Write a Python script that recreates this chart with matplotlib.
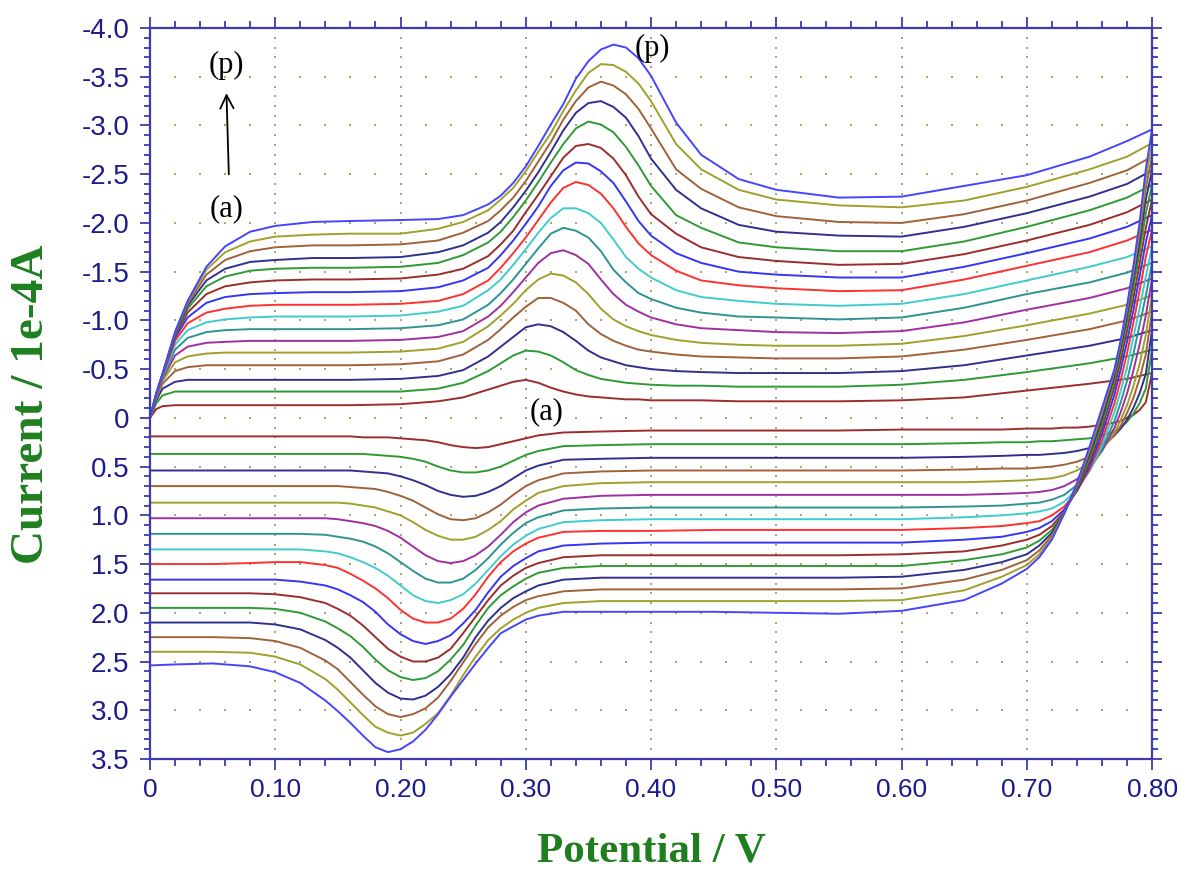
import matplotlib
matplotlib.use("Agg")
import matplotlib.pyplot as plt
import numpy as np

# ---------------- data (potential in V, current in 1e-4 A) ----------------
forward_V = [0.0, 0.005, 0.01, 0.02, 0.03, 0.045, 0.06, 0.08, 0.10, 0.13, 0.16, 0.20,
             0.23, 0.25, 0.27, 0.28, 0.29, 0.30, 0.31, 0.32, 0.33, 0.34, 0.35, 0.36,
             0.37, 0.38, 0.39, 0.40, 0.42, 0.44, 0.47, 0.50, 0.55, 0.60, 0.65, 0.70,
             0.75, 0.78, 0.80]
reverse_V = [0.80, 0.795, 0.79, 0.785, 0.78, 0.775, 0.77, 0.76, 0.75, 0.74, 0.73, 0.72,
             0.71, 0.70, 0.68, 0.65, 0.60, 0.55, 0.50, 0.45, 0.40, 0.36, 0.33, 0.31,
             0.30, 0.29, 0.28, 0.27, 0.26, 0.25, 0.24, 0.23, 0.22, 0.21, 0.20, 0.19,
             0.18, 0.17, 0.16, 0.15, 0.14, 0.12, 0.10, 0.08, 0.05, 0.02, 0.0]

fwd_a = [0.0, -0.09, -0.12, -0.13, -0.13, -0.13, -0.13, -0.13, -0.13, -0.13, -0.13, -0.14, -0.17, -0.21, -0.29, -0.33, -0.37, -0.39, -0.36, -0.31, -0.27, -0.24, -0.22, -0.21, -0.20, -0.19, -0.19, -0.18, -0.18, -0.18, -0.17, -0.17, -0.17, -0.18, -0.21, -0.28, -0.35, -0.40, -0.46]
fwd_b = [0.0, -0.15, -0.23, -0.27, -0.27, -0.27, -0.27, -0.27, -0.27, -0.27, -0.27, -0.27, -0.30, -0.36, -0.48, -0.56, -0.64, -0.69, -0.68, -0.64, -0.57, -0.49, -0.44, -0.40, -0.38, -0.36, -0.35, -0.34, -0.33, -0.33, -0.32, -0.32, -0.32, -0.34, -0.39, -0.47, -0.56, -0.63, -0.70]
fwd_c = [0.0, -0.18, -0.30, -0.37, -0.39, -0.39, -0.39, -0.39, -0.39, -0.39, -0.39, -0.40, -0.43, -0.49, -0.63, -0.73, -0.83, -0.93, -0.96, -0.94, -0.88, -0.79, -0.69, -0.62, -0.58, -0.54, -0.52, -0.50, -0.48, -0.47, -0.46, -0.46, -0.46, -0.48, -0.54, -0.64, -0.74, -0.82, -0.90]
fwd_d = [0.0, -0.20, -0.35, -0.48, -0.52, -0.54, -0.54, -0.54, -0.54, -0.54, -0.54, -0.55, -0.58, -0.65, -0.80, -0.91, -1.03, -1.14, -1.23, -1.23, -1.18, -1.10, -0.96, -0.86, -0.79, -0.74, -0.70, -0.68, -0.65, -0.63, -0.62, -0.61, -0.61, -0.63, -0.70, -0.80, -0.91, -1.00, -1.09]
fwd_e = [0.0, -0.21, -0.38, -0.57, -0.63, -0.66, -0.67, -0.67, -0.67, -0.67, -0.67, -0.68, -0.71, -0.78, -0.94, -1.05, -1.17, -1.31, -1.42, -1.48, -1.46, -1.39, -1.27, -1.12, -1.01, -0.94, -0.89, -0.85, -0.80, -0.77, -0.75, -0.74, -0.74, -0.76, -0.84, -0.95, -1.07, -1.16, -1.26]
fwd_f = [0.0, -0.22, -0.40, -0.64, -0.73, -0.77, -0.78, -0.79, -0.79, -0.79, -0.79, -0.80, -0.83, -0.89, -1.04, -1.15, -1.29, -1.44, -1.59, -1.69, -1.72, -1.67, -1.58, -1.42, -1.27, -1.16, -1.09, -1.03, -0.96, -0.92, -0.90, -0.88, -0.87, -0.89, -0.98, -1.11, -1.23, -1.33, -1.43]
fwd_g = [0.0, -0.23, -0.41, -0.70, -0.82, -0.88, -0.90, -0.91, -0.91, -0.91, -0.91, -0.92, -0.95, -1.01, -1.16, -1.28, -1.42, -1.58, -1.74, -1.89, -1.95, -1.92, -1.85, -1.71, -1.52, -1.39, -1.28, -1.22, -1.13, -1.08, -1.04, -1.03, -1.01, -1.03, -1.13, -1.27, -1.39, -1.49, -1.59]
fwd_h = [0.0, -0.24, -0.42, -0.75, -0.90, -0.98, -1.01, -1.03, -1.04, -1.04, -1.04, -1.05, -1.09, -1.15, -1.31, -1.42, -1.57, -1.73, -1.90, -2.05, -2.15, -2.15, -2.10, -2.00, -1.83, -1.65, -1.53, -1.44, -1.31, -1.24, -1.20, -1.17, -1.15, -1.17, -1.27, -1.41, -1.55, -1.65, -1.76]
fwd_i = [0.0, -0.24, -0.43, -0.79, -0.97, -1.08, -1.12, -1.15, -1.16, -1.16, -1.16, -1.17, -1.20, -1.27, -1.41, -1.54, -1.69, -1.85, -2.03, -2.21, -2.36, -2.42, -2.39, -2.30, -2.15, -1.96, -1.79, -1.67, -1.51, -1.41, -1.36, -1.33, -1.30, -1.31, -1.42, -1.56, -1.70, -1.82, -1.93]
fwd_j = [0.0, -0.24, -0.44, -0.82, -1.03, -1.18, -1.24, -1.27, -1.28, -1.29, -1.29, -1.30, -1.34, -1.41, -1.54, -1.67, -1.82, -1.99, -2.17, -2.38, -2.54, -2.62, -2.61, -2.53, -2.41, -2.22, -2.02, -1.87, -1.69, -1.59, -1.50, -1.47, -1.44, -1.44, -1.55, -1.69, -1.84, -1.96, -2.08]
fwd_k = [0.0, -0.25, -0.44, -0.84, -1.08, -1.27, -1.35, -1.39, -1.41, -1.42, -1.42, -1.43, -1.47, -1.53, -1.66, -1.78, -1.92, -2.11, -2.29, -2.48, -2.67, -2.79, -2.81, -2.77, -2.66, -2.49, -2.27, -2.09, -1.89, -1.75, -1.65, -1.61, -1.57, -1.58, -1.68, -1.82, -1.98, -2.11, -2.24]
fwd_l = [0.0, -0.25, -0.45, -0.85, -1.12, -1.35, -1.45, -1.51, -1.53, -1.54, -1.54, -1.55, -1.59, -1.67, -1.80, -1.91, -2.06, -2.23, -2.42, -2.62, -2.81, -2.97, -3.04, -3.01, -2.93, -2.78, -2.59, -2.38, -2.08, -1.95, -1.80, -1.75, -1.71, -1.71, -1.81, -1.96, -2.13, -2.26, -2.39]
fwd_m = [0.0, -0.25, -0.45, -0.86, -1.15, -1.41, -1.53, -1.60, -1.62, -1.64, -1.64, -1.65, -1.70, -1.77, -1.90, -2.01, -2.16, -2.33, -2.52, -2.73, -2.95, -3.13, -3.23, -3.25, -3.19, -3.08, -2.89, -2.66, -2.34, -2.15, -1.98, -1.91, -1.87, -1.86, -1.96, -2.10, -2.27, -2.40, -2.54]
fwd_n = [0.0, -0.25, -0.45, -0.87, -1.17, -1.47, -1.62, -1.71, -1.75, -1.77, -1.77, -1.78, -1.82, -1.90, -2.02, -2.13, -2.26, -2.43, -2.63, -2.83, -3.06, -3.25, -3.39, -3.45, -3.41, -3.32, -3.17, -2.97, -2.55, -2.35, -2.16, -2.07, -2.01, -2.00, -2.09, -2.23, -2.41, -2.54, -2.68]
fwd_o = [0.0, -0.25, -0.45, -0.88, -1.19, -1.52, -1.70, -1.81, -1.86, -1.88, -1.89, -1.89, -1.94, -2.01, -2.13, -2.24, -2.36, -2.53, -2.73, -2.92, -3.15, -3.36, -3.54, -3.63, -3.62, -3.55, -3.43, -3.25, -2.81, -2.55, -2.34, -2.24, -2.18, -2.16, -2.23, -2.37, -2.55, -2.68, -2.82]
fwd_p = [0.0, -0.25, -0.45, -0.88, -1.20, -1.55, -1.76, -1.91, -1.97, -2.01, -2.02, -2.03, -2.04, -2.08, -2.19, -2.28, -2.41, -2.58, -2.79, -3.01, -3.22, -3.48, -3.66, -3.78, -3.83, -3.80, -3.69, -3.51, -3.03, -2.70, -2.45, -2.34, -2.26, -2.27, -2.38, -2.49, -2.68, -2.84, -2.96]

rev_a = [-0.46, -0.16, -0.08, -0.03, 0.00, 0.03, 0.05, 0.07, 0.09, 0.10, 0.10, 0.11, 0.11, 0.11, 0.12, 0.12, 0.12, 0.13, 0.13, 0.13, 0.13, 0.14, 0.15, 0.18, 0.21, 0.24, 0.27, 0.30, 0.31, 0.30, 0.28, 0.25, 0.23, 0.22, 0.21, 0.20, 0.20, 0.20, 0.19, 0.19, 0.19, 0.19, 0.19, 0.19, 0.19, 0.19, 0.19]
rev_b = [-0.70, -0.30, -0.15, -0.04, 0.04, 0.10, 0.14, 0.18, 0.21, 0.22, 0.23, 0.24, 0.24, 0.25, 0.25, 0.26, 0.27, 0.27, 0.27, 0.27, 0.27, 0.28, 0.29, 0.34, 0.38, 0.44, 0.50, 0.54, 0.56, 0.56, 0.54, 0.50, 0.45, 0.42, 0.40, 0.39, 0.38, 0.37, 0.37, 0.37, 0.37, 0.37, 0.37, 0.37, 0.37, 0.37, 0.37]
rev_c = [-0.90, -0.45, -0.25, -0.10, 0.02, 0.11, 0.18, 0.26, 0.31, 0.34, 0.36, 0.37, 0.38, 0.38, 0.39, 0.40, 0.41, 0.41, 0.41, 0.41, 0.41, 0.42, 0.43, 0.49, 0.54, 0.62, 0.70, 0.76, 0.80, 0.81, 0.79, 0.75, 0.69, 0.64, 0.60, 0.57, 0.56, 0.55, 0.54, 0.54, 0.54, 0.54, 0.54, 0.54, 0.54, 0.54, 0.54]
rev_d = [-1.09, -0.65, -0.40, -0.20, -0.05, 0.08, 0.18, 0.31, 0.40, 0.45, 0.48, 0.50, 0.51, 0.52, 0.52, 0.53, 0.54, 0.54, 0.54, 0.54, 0.54, 0.55, 0.57, 0.64, 0.70, 0.79, 0.89, 0.97, 1.03, 1.05, 1.04, 0.99, 0.92, 0.85, 0.80, 0.76, 0.73, 0.72, 0.71, 0.70, 0.70, 0.70, 0.70, 0.70, 0.70, 0.70, 0.70]
rev_e = [-1.26, -0.85, -0.55, -0.32, -0.13, 0.02, 0.15, 0.33, 0.46, 0.54, 0.59, 0.62, 0.63, 0.64, 0.65, 0.66, 0.66, 0.66, 0.66, 0.66, 0.66, 0.67, 0.70, 0.77, 0.85, 0.94, 1.06, 1.15, 1.22, 1.25, 1.25, 1.21, 1.15, 1.07, 1.00, 0.96, 0.92, 0.90, 0.88, 0.87, 0.87, 0.87, 0.87, 0.87, 0.87, 0.87, 0.87]
rev_f = [-1.43, -1.05, -0.75, -0.48, -0.25, -0.06, 0.10, 0.34, 0.51, 0.63, 0.70, 0.74, 0.76, 0.77, 0.78, 0.79, 0.79, 0.79, 0.79, 0.79, 0.79, 0.80, 0.83, 0.90, 0.97, 1.07, 1.20, 1.32, 1.41, 1.47, 1.49, 1.47, 1.41, 1.32, 1.23, 1.16, 1.11, 1.08, 1.06, 1.04, 1.03, 1.03, 1.03, 1.03, 1.03, 1.03, 1.03]
rev_g = [-1.59, -1.25, -0.95, -0.65, -0.38, -0.16, 0.03, 0.32, 0.54, 0.69, 0.79, 0.84, 0.87, 0.88, 0.90, 0.91, 0.92, 0.92, 0.92, 0.92, 0.92, 0.93, 0.95, 1.02, 1.08, 1.18, 1.30, 1.44, 1.56, 1.65, 1.69, 1.69, 1.65, 1.57, 1.48, 1.39, 1.32, 1.27, 1.24, 1.22, 1.20, 1.19, 1.19, 1.19, 1.19, 1.19, 1.19]
rev_h = [-1.76, -1.45, -1.12, -0.82, -0.52, -0.28, -0.06, 0.28, 0.55, 0.73, 0.86, 0.93, 0.96, 0.98, 1.00, 1.02, 1.04, 1.04, 1.04, 1.04, 1.04, 1.05, 1.07, 1.14, 1.21, 1.30, 1.42, 1.56, 1.70, 1.81, 1.87, 1.90, 1.88, 1.82, 1.72, 1.62, 1.54, 1.48, 1.43, 1.39, 1.37, 1.35, 1.35, 1.35, 1.35, 1.35, 1.35]
rev_i = [-1.93, -1.65, -1.30, -0.97, -0.66, -0.39, -0.15, 0.23, 0.53, 0.75, 0.91, 1.00, 1.06, 1.08, 1.11, 1.13, 1.15, 1.15, 1.15, 1.15, 1.16, 1.16, 1.17, 1.23, 1.29, 1.37, 1.48, 1.63, 1.81, 1.96, 2.06, 2.10, 2.10, 2.06, 1.97, 1.85, 1.75, 1.67, 1.60, 1.54, 1.51, 1.48, 1.48, 1.49, 1.50, 1.50, 1.50]
rev_j = [-2.08, -1.80, -1.45, -1.10, -0.78, -0.50, -0.24, 0.17, 0.50, 0.75, 0.94, 1.06, 1.13, 1.17, 1.22, 1.25, 1.28, 1.28, 1.28, 1.28, 1.28, 1.29, 1.31, 1.37, 1.44, 1.52, 1.63, 1.79, 1.97, 2.11, 2.23, 2.29, 2.32, 2.29, 2.22, 2.12, 1.99, 1.89, 1.82, 1.76, 1.72, 1.68, 1.66, 1.66, 1.66, 1.66, 1.66]
rev_k = [-2.24, -1.95, -1.58, -1.22, -0.89, -0.59, -0.32, 0.11, 0.46, 0.74, 0.96, 1.11, 1.20, 1.25, 1.31, 1.37, 1.40, 1.41, 1.41, 1.41, 1.41, 1.41, 1.43, 1.49, 1.54, 1.62, 1.72, 1.87, 2.04, 2.21, 2.37, 2.46, 2.50, 2.50, 2.45, 2.37, 2.25, 2.13, 2.03, 1.96, 1.90, 1.84, 1.81, 1.80, 1.80, 1.80, 1.80]
rev_l = [-2.39, -2.10, -1.70, -1.33, -0.98, -0.67, -0.39, 0.06, 0.42, 0.72, 0.97, 1.15, 1.26, 1.33, 1.40, 1.46, 1.52, 1.52, 1.52, 1.52, 1.52, 1.52, 1.54, 1.59, 1.65, 1.73, 1.82, 1.95, 2.13, 2.33, 2.48, 2.60, 2.67, 2.69, 2.66, 2.59, 2.48, 2.35, 2.24, 2.16, 2.09, 2.00, 1.96, 1.95, 1.95, 1.95, 1.95]
rev_m = [-2.54, -2.24, -1.80, -1.42, -1.05, -0.72, -0.44, 0.01, 0.38, 0.70, 0.97, 1.18, 1.31, 1.40, 1.48, 1.56, 1.63, 1.64, 1.64, 1.64, 1.64, 1.64, 1.66, 1.72, 1.78, 1.85, 1.95, 2.08, 2.25, 2.46, 2.63, 2.76, 2.85, 2.89, 2.88, 2.82, 2.72, 2.59, 2.46, 2.36, 2.28, 2.17, 2.12, 2.10, 2.10, 2.10, 2.10]
rev_n = [-2.68, -2.36, -1.88, -1.48, -1.10, -0.76, -0.47, -0.04, 0.35, 0.69, 0.97, 1.21, 1.36, 1.46, 1.56, 1.66, 1.75, 1.76, 1.76, 1.76, 1.76, 1.76, 1.78, 1.83, 1.87, 1.94, 2.03, 2.15, 2.32, 2.51, 2.70, 2.87, 2.98, 3.04, 3.07, 3.04, 2.96, 2.84, 2.71, 2.58, 2.49, 2.36, 2.29, 2.26, 2.25, 2.25, 2.25]
rev_o = [-2.82, -2.46, -1.95, -1.52, -1.13, -0.78, -0.49, -0.07, 0.32, 0.68, 0.98, 1.23, 1.40, 1.51, 1.63, 1.77, 1.87, 1.88, 1.88, 1.88, 1.88, 1.88, 1.90, 1.95, 2.00, 2.07, 2.16, 2.28, 2.45, 2.64, 2.85, 3.03, 3.14, 3.23, 3.26, 3.23, 3.17, 3.05, 2.92, 2.79, 2.68, 2.53, 2.45, 2.41, 2.40, 2.40, 2.40]
rev_p = [-2.96, -2.55, -2.00, -1.55, -1.15, -0.80, -0.50, -0.10, 0.30, 0.67, 0.98, 1.25, 1.43, 1.55, 1.70, 1.87, 1.98, 2.01, 2.00, 1.99, 1.99, 1.99, 1.99, 2.03, 2.07, 2.14, 2.21, 2.36, 2.52, 2.69, 2.86, 3.04, 3.20, 3.32, 3.40, 3.43, 3.38, 3.26, 3.13, 3.01, 2.90, 2.72, 2.61, 2.55, 2.52, 2.53, 2.54]

curve_names = list("abcdefghijklmnop")
curve_colors = ["#9b2d2d", "#2f9a35", "#30308f", "#a0623a", "#a0a02c", "#a030a0",
                "#2f9393", "#40cccc", "#ff3030", "#3535f5", "#9b2d2d", "#2f9a35",
                "#30308f", "#a0623a", "#a0a02c", "#4545ff"]

y_ticks = [-4.0, -3.5, -3.0, -2.5, -2.0, -1.5, -1.0, -0.5, 0.0, 0.5, 1.0, 1.5, 2.0, 2.5, 3.0, 3.5]
y_tick_labels = ["-4.0", "-3.5", "-3.0", "-2.5", "-2.0", "-1.5", "-1.0", "-0.5", "0",
                 "0.5", "1.0", "1.5", "2.0", "2.5", "3.0", "3.5"]
x_ticks = [0.0, 0.1, 0.2, 0.3, 0.4, 0.5, 0.6, 0.7, 0.8]
x_tick_labels = ["0", "0.10", "0.20", "0.30", "0.40", "0.50", "0.60", "0.70", "0.80"]

forwards = [fwd_a, fwd_b, fwd_c, fwd_d, fwd_e, fwd_f, fwd_g, fwd_h,
            fwd_i, fwd_j, fwd_k, fwd_l, fwd_m, fwd_n, fwd_o, fwd_p]
reverses = [rev_a, rev_b, rev_c, rev_d, rev_e, rev_f, rev_g, rev_h,
            rev_i, rev_j, rev_k, rev_l, rev_m, rev_n, rev_o, rev_p]
for f_, r_ in zip(forwards, reverses):
    assert len(f_) == len(forward_V), len(f_)
    assert len(r_) == len(reverse_V), len(r_)

# ---------------- figure ----------------
AX_BLUE = "#3c3cb0"
LBL_BLUE = "#1c1c8a"
GREEN = "#1f7f1f"
DOT = "#a8a870"

fig = plt.figure(figsize=(11.81, 8.76), dpi=100)
ax = fig.add_axes([0.1270, 0.1336, 0.8485, 0.8344])

# dotted grid (dots on major x lines at each minor y, and on major y lines at each minor x)
minor_y = np.round(np.arange(-4.0, 3.5001, 0.1), 3)
minor_x = np.round(np.arange(0.0, 0.8001, 0.02), 3)
for xv in x_ticks[1:-1]:
    ax.plot([xv] * len(minor_y), minor_y, ls="none", marker="s", ms=1.6,
            mew=0, color=DOT, zorder=0)
for yv in y_ticks[1:]:
    ax.plot(minor_x[1:-1], [yv] * (len(minor_x) - 2), ls="none", marker="s", ms=1.6,
            mew=0, color=DOT, zorder=0)

for name, col, f_, r_ in zip(curve_names, curve_colors, forwards, reverses):
    V = list(forward_V) + list(reverse_V[1:])
    I = list(f_) + list(r_[1:])
    ax.plot(V, I, color=col, lw=1.4, solid_joinstyle="round", zorder=2)

ax.set_xlim(0.0, 0.8)
ax.set_ylim(3.5, -4.0)

ax.set_xticks(x_ticks)
ax.set_xticklabels(x_tick_labels)
ax.set_yticks(y_ticks)
ax.set_yticklabels(y_tick_labels)
ax.set_xticks(minor_x, minor=True)
ax.set_yticks(minor_y, minor=True)

for s in ax.spines.values():
    s.set_color(AX_BLUE)
    s.set_linewidth(1.6)

tick_font = ["Liberation Sans", "DejaVu Sans"]
ax.tick_params(which="both", direction="out", color=AX_BLUE, width=1.3,
               top=True, right=True, labeltop=False, labelright=False)
ax.tick_params(axis="y", which="major", length=7, pad=8, labelsize=20, labelcolor=LBL_BLUE)
ax.tick_params(axis="y", which="minor", length=4.5)
ax.tick_params(axis="x", which="major", length=8, pad=6, labelsize=19, labelcolor=LBL_BLUE)
ax.tick_params(axis="x", which="minor", length=5)
for lab in ax.get_xticklabels() + ax.get_yticklabels():
    lab.set_family(tick_font)

serif = ["Liberation Serif", "DejaVu Serif"]
ax.set_xlabel("Potential / V", fontsize=31, fontweight="bold", color=GREEN, family=serif)
ax.set_ylabel("Current / 1e-4A", fontsize=34, fontweight="bold", color=GREEN, family=serif)
ax.xaxis.set_label_coords(0.50, -0.100)
ax.yaxis.set_label_coords(-0.097, 0.485)

ann = dict(fontsize=22, color="black", family=serif, ha="center", va="center")
ax.text(0.401, -3.79, "(p)", **ann)
ax.text(0.317, -0.06, "(a)", **ann)
ax.text(0.061, -3.62, "(p)", **ann)
ax.text(0.061, -2.15, "(a)", **ann)
ax.annotate("", xy=(0.061, -3.36), xytext=(0.063, -2.47),
            arrowprops=dict(arrowstyle="->", color="black", lw=1.3, mutation_scale=24))

fig.savefig("out.png", dpi=100)
